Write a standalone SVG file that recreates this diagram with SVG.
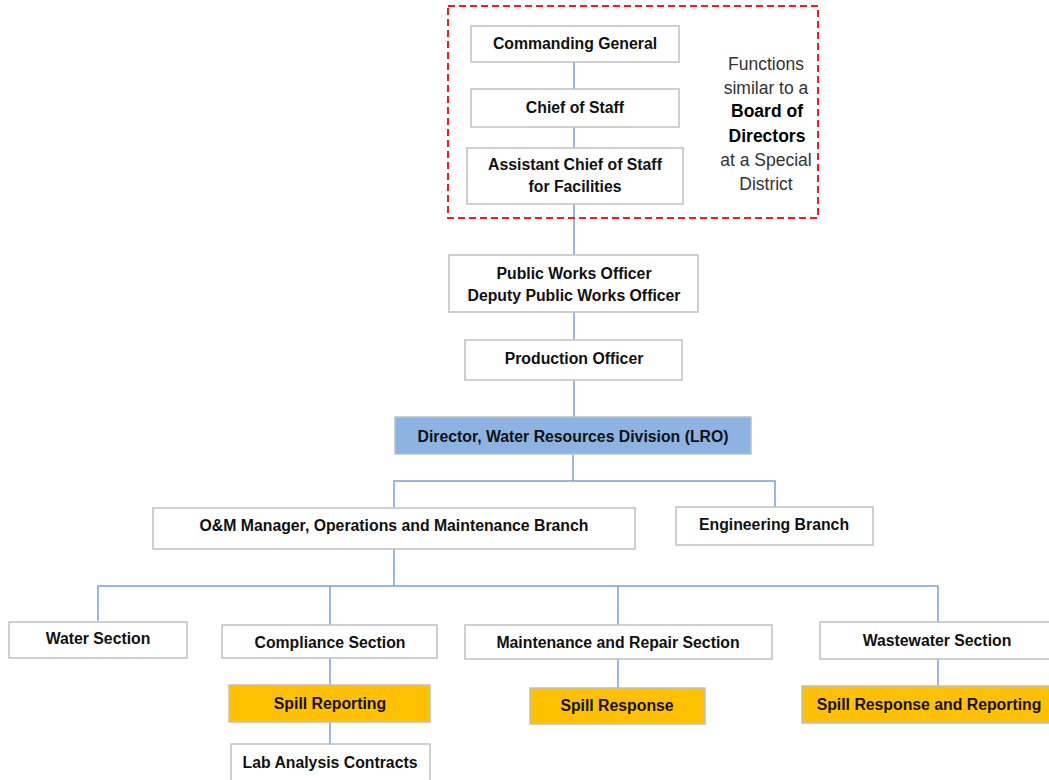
<svg xmlns="http://www.w3.org/2000/svg" width="1049" height="780" viewBox="0 0 1049 780">
<style>
.box{fill:#fff;stroke:#c0c0c0;stroke-width:1.5}
.blue{fill:#8db3e2;stroke:#c0c0c0;stroke-width:1.5}
.gold{fill:#ffc000;stroke:#c0c0c0;stroke-width:1.5}
.t{font-family:"Liberation Sans",Arial,sans-serif;font-weight:bold;font-size:15.8px;fill:#111;text-anchor:middle;dominant-baseline:central}
.c{fill:none;stroke:#7aa0d2;stroke-width:1.5}
.n{font-family:"Liberation Sans",Arial,sans-serif;font-size:17.5px;fill:#333;text-anchor:middle;dominant-baseline:central}
.b{font-weight:bold;fill:#000}
</style>
<rect width="1049" height="780" fill="#fff"/>
<g id="connectors">
<path class="c" d="M574 62V89M574 127V148M574 204V255M574 312V340M574 380V417"/>
<path class="c" d="M573 454V481M394 507V481H775V507"/>
<path class="c" d="M394 549V586M98 621V586H938V622M330 586V625M618 586V625"/>
<path class="c" d="M330 658V685M330 722V744M618 659V688M938 659V686"/>
</g>
<g id="board">
<rect x="448" y="6" width="370" height="212" fill="none" stroke="#ee1c24" stroke-width="2" stroke-dasharray="7,4"/>
<text class="n" x="766" y="64">Functions</text>
<text class="n" x="766" y="88">similar to a</text>
<text class="n b" x="767" y="111">Board of</text>
<text class="n b" x="767" y="136">Directors</text>
<text class="n" x="766" y="160">at a Special</text>
<text class="n" x="766" y="184">District</text>
</g>
<g id="commanding-general"><rect class="box" x="471" y="26" width="208" height="36"/><text class="t" x="575" y="43">Commanding General</text></g>
<g id="chief-of-staff"><rect class="box" x="471" y="89" width="208" height="38"/><text class="t" x="575" y="107">Chief of Staff</text></g>
<g id="acos-facilities"><rect class="box" x="467" y="148" width="216" height="56"/><text class="t" x="575" y="164">Assistant Chief of Staff</text><text class="t" x="575" y="186">for Facilities</text></g>
<g id="public-works"><rect class="box" x="449" y="255" width="249" height="57"/><text class="t" x="574" y="273">Public Works Officer</text><text class="t" x="574" y="295">Deputy Public Works Officer</text></g>
<g id="production-officer"><rect class="box" x="465" y="340" width="217" height="40"/><text class="t" x="574" y="358">Production Officer</text></g>
<g id="director"><rect class="blue" x="395" y="417" width="356" height="37"/><text class="t" x="573" y="436">Director, Water Resources Division (LRO)</text></g>
<g id="om-manager"><rect class="box" x="153" y="508" width="482" height="41"/><text class="t" x="394" y="525">O&amp;M Manager, Operations and Maintenance Branch</text></g>
<g id="engineering"><rect class="box" x="676" y="507" width="197" height="38"/><text class="t" x="774" y="524">Engineering Branch</text></g>
<g id="water-section"><rect class="box" x="9" y="622" width="178" height="36"/><text class="t" x="98" y="638">Water Section</text></g>
<g id="compliance-section"><rect class="box" x="222" y="625" width="215" height="33"/><text class="t" x="330" y="642">Compliance Section</text></g>
<g id="maintenance-section"><rect class="box" x="465" y="625" width="307" height="34"/><text class="t" x="618" y="642">Maintenance and Repair Section</text></g>
<g id="wastewater-section"><rect class="box" x="820" y="622" width="235" height="37"/><text class="t" x="937" y="640">Wastewater Section</text></g>
<g id="spill-reporting"><rect class="gold" x="229" y="685" width="201" height="37"/><text class="t" x="330" y="703">Spill Reporting</text></g>
<g id="lab-analysis"><rect class="box" x="231" y="744" width="199" height="44"/><text class="t" x="330" y="762">Lab Analysis Contracts</text></g>
<g id="spill-response"><rect class="gold" x="530" y="688" width="175" height="36"/><text class="t" x="617" y="705">Spill Response</text></g>
<g id="spill-response-reporting"><rect class="gold" x="802" y="686" width="253" height="37"/><text class="t" x="929" y="704">Spill Response and Reporting</text></g>
</svg>
